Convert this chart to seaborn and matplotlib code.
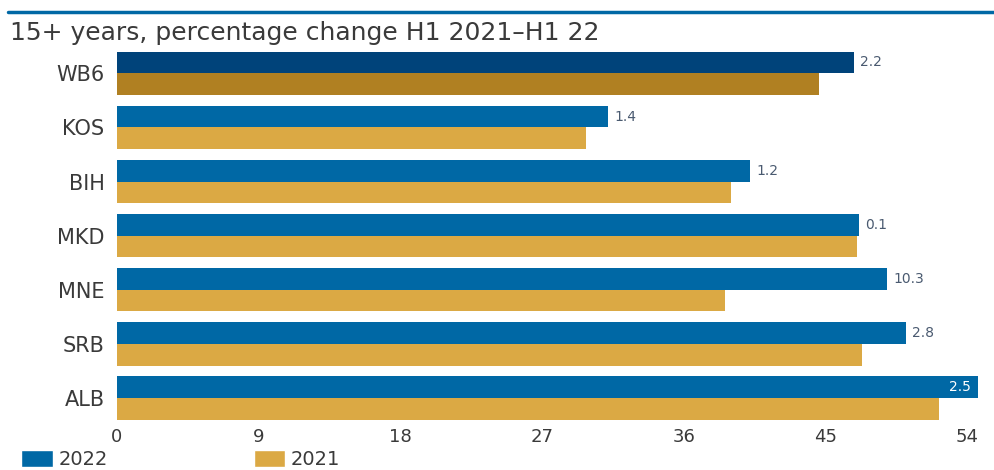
import pandas as pd
import matplotlib.pyplot as plt
import seaborn as sns
from matplotlib.lines import Line2D
from matplotlib.patches import Patch

# Data
countries = ["WB6", "KOS", "BIH", "MKD", "MNE", "SRB", "ALB"]
rate_2022 = [46.8, 31.2, 40.2, 47.1, 48.9, 50.1, 54.7]
rate_2021 = [44.6, 29.8, 39.0, 47.0, 38.6, 47.3, 52.2]
change_labels = ["2.2", "1.4", "1.2", "0.1", "10.3", "2.8", "2.5"]
years = ["2022", "2021"]
ticks = [0, 9, 18, 27, 36, 45, 54]
title = "15+ years, percentage change H1 2021\u2013H1 22"

BLUE = "#0068a5"
GOLD = "#dba944"
NAVY = "#00437a"
DARK_GOLD = "#b08022"
TEXT = "#3a3a3a"

df = pd.DataFrame({
    "country": countries * 2,
    "year": [years[0]] * len(countries) + [years[1]] * len(countries),
    "value": rate_2022 + rate_2021,
})

sns.set_style("white")
plt.rcParams["font.family"] = ["DejaVu Sans"]

fig = plt.figure(figsize=(9.94, 4.70), dpi=100)
ax = fig.add_axes([117 / 994, 46 / 470, 877 / 994, 381 / 470])

sns.barplot(data=df, y="country", x="value", hue="year", hue_order=years,
            order=countries, palette=[BLUE, GOLD], width=0.8, gap=0,
            saturation=1, linewidth=0, orient="h", legend=False, ax=ax)

# WB6 (first category) gets darker shades
n = len(countries)
ax.patches[0].set_facecolor(NAVY)
ax.patches[n].set_facecolor(DARK_GOLD)

ax.set_xlim(0, 55.7)
ax.set_ylim(6.48, -0.56)
ax.set_xticks(ticks)
ax.set_xticklabels([str(t) for t in ticks])
ax.set_xlabel("")
ax.set_ylabel("")
for s in ax.spines.values():
    s.set_visible(False)
ax.tick_params(axis="x", length=0, labelsize=13, labelcolor=TEXT, pad=3)
ax.tick_params(axis="y", length=0, labelsize=15, labelcolor=TEXT, pad=9)

# value labels
for i, (v, lab) in enumerate(zip(rate_2022, change_labels)):
    if i == n - 1:
        ax.text(v - 0.5, i - 0.2, lab, ha="right", va="center",
                fontsize=10, color="white")
    else:
        ax.text(v + 0.4, i - 0.2, lab, ha="left", va="center",
                fontsize=10, color="#4a5a70")

# title and rule
fig.add_artist(Line2D([8 / 994, 1], [1 - 12 / 470, 1 - 12 / 470],
                      color=BLUE, lw=2.5))
fig.text(10 / 994, 1 - 33 / 470, title, fontsize=18, color=TEXT,
         va="center", ha="left")

handles = [Patch(facecolor=BLUE, label=years[0]),
           Patch(facecolor=GOLD, label=years[1])]
fig.legend(handles=handles, loc="lower left", bbox_to_anchor=(0.004, -0.035),
           ncol=2, frameon=False, fontsize=14, handlelength=1.6,
           handleheight=1.0, handletextpad=0.3, columnspacing=7.5,
           labelcolor=TEXT)

fig.savefig("out.png", dpi=100)
